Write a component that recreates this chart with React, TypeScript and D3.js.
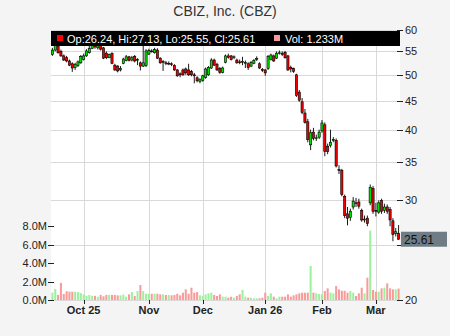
import React from 'react';
import * as d3 from 'd3';

const W = 450;
const H = 336;

const START = '2025-09-16';
const HOLIDAYS = ['2025-11-27', '2025-12-25', '2026-01-01', '2026-01-19', '2026-02-16'];

const open = [
  54.3, 55.3, 56.2, 55.0, 54.0, 53.6, 52.9, 52.3, 51.5, 51.9,
  52.5, 53.2, 54.0, 54.7, 55.7, 56.5, 55.8, 56.3, 55.8, 54.6,
  53.6, 54.5, 52.0, 51.8, 51.0, 52.4, 53.0, 53.8, 53.1, 53.9,
  53.0, 52.5, 51.8, 51.9, 54.4, 55.1, 54.7, 55.3, 53.5, 52.6,
  52.5, 52.3, 52.3, 51.9, 51.0, 50.2, 51.0, 51.2, 51.0, 50.7,
  50.0, 49.4, 48.7, 48.9, 49.5, 50.0, 51.4, 53.1, 52.2, 51.3,
  50.5, 52.6, 54.0, 54.0, 53.7, 53.1, 52.7, 52.6, 52.4, 52.3,
  51.8, 52.4, 53.3, 52.3, 51.1, 51.0, 51.3, 53.2, 54.0, 53.5,
  54.6, 54.6, 54.8, 54.0, 51.5, 51.3, 50.0, 46.6, 44.8, 42.8,
  41.3, 37.6, 39.6, 38.6, 38.8, 39.8, 40.8, 37.4, 37.5, 38.3,
  38.3, 34.0, 33.9, 30.5, 28.4, 28.0, 29.2, 29.7, 29.8, 28.8,
  27.7, 27.9, 29.7, 31.5, 28.8, 28.6, 30.0, 28.8, 29.2, 28.9,
  27.6, 26.2, 26.24,
];
const high = [
  55.8, 57.0, 56.8, 55.4, 54.3, 54.0, 53.2, 52.6, 52.5, 53.0,
  54.2, 54.5, 55.5, 56.3, 57.0, 57.2, 57.0, 56.8, 56.0, 55.0,
  54.5, 54.8, 52.3, 52.0, 51.8, 53.6, 54.2, 54.0, 54.0, 54.2,
  53.5, 52.8, 56.4, 55.5, 55.6, 55.5, 55.8, 55.7, 53.7, 53.1,
  52.9, 52.8, 52.6, 52.2, 51.2, 50.5, 51.3, 51.5, 52.3, 51.0,
  50.4, 49.7, 49.3, 50.0, 51.5, 51.8, 53.5, 53.4, 52.5, 51.6,
  51.7, 54.3, 54.5, 54.2, 54.1, 53.4, 53.2, 53.8, 53.0, 52.6,
  52.9, 53.3, 53.9, 52.6, 51.4, 51.2, 54.2, 54.5, 54.3, 55.0,
  55.2, 55.0, 55.1, 54.2, 51.9, 51.5, 50.2, 47.0, 45.5, 43.5,
  41.8, 40.0, 40.3, 39.2, 40.0, 41.6, 41.2, 37.8, 40.0, 38.8,
  38.6, 34.6, 34.1, 30.7, 29.2, 29.0, 30.4, 30.3, 30.2, 29.0,
  28.2, 28.2, 32.0, 31.8, 29.7, 30.0, 30.2, 29.6, 29.5, 29.2,
  27.9, 26.8, 27.13,
];
const low = [
  54.0, 55.0, 54.5, 53.8, 52.9, 52.6, 51.8, 50.6, 51.0, 51.6,
  52.3, 53.0, 53.8, 54.5, 55.5, 55.6, 55.4, 55.2, 53.3, 53.3,
  53.5, 52.2, 50.8, 50.5, 50.7, 52.2, 52.8, 52.8, 52.8, 52.6,
  52.0, 50.9, 51.6, 51.6, 54.2, 54.7, 54.5, 53.3, 52.3, 50.8,
  52.0, 52.0, 51.8, 50.8, 49.6, 49.5, 49.8, 50.0, 49.8, 49.7,
  48.3, 48.5, 48.3, 48.6, 49.2, 49.8, 51.2, 51.8, 50.8, 50.2,
  50.3, 52.4, 53.4, 53.0, 53.3, 52.3, 52.2, 52.0, 51.4, 51.0,
  51.6, 52.2, 52.9, 51.2, 50.6, 49.8, 51.0, 53.0, 52.7, 53.3,
  54.3, 54.0, 53.4, 50.8, 50.5, 50.4, 45.7, 44.8, 42.6, 41.0,
  38.0, 36.8, 38.3, 38.2, 38.5, 39.5, 35.9, 36.2, 37.2, 38.0,
  34.3, 33.4, 30.5, 27.9, 27.1, 27.6, 28.9, 29.2, 29.0, 27.5,
  27.4, 27.0, 29.4, 28.4, 28.1, 28.4, 28.4, 28.5, 28.4, 27.0,
  25.4, 25.9, 25.55,
];
const close = [
  55.3, 56.3, 54.7, 54.0, 53.1, 52.9, 52.0, 51.4, 52.2, 52.7,
  53.9, 54.0, 55.1, 55.7, 56.5, 56.0, 56.4, 55.5, 53.5, 53.6,
  54.3, 52.4, 51.0, 50.8, 51.3, 53.3, 53.8, 53.0, 53.6, 52.9,
  53.2, 51.8, 52.5, 55.1, 55.2, 55.0, 55.4, 53.5, 52.5, 52.8,
  52.4, 52.4, 52.1, 51.0, 49.8, 50.0, 50.0, 50.4, 50.0, 50.0,
  49.8, 48.8, 49.0, 49.8, 51.2, 51.5, 53.1, 52.0, 51.0, 50.5,
  51.4, 54.0, 53.7, 53.2, 53.8, 52.5, 52.6, 52.8, 52.6, 51.5,
  52.6, 53.0, 53.4, 51.4, 51.0, 50.4, 53.9, 54.2, 52.9, 54.6,
  54.7, 54.3, 53.6, 51.0, 51.2, 50.7, 46.0, 45.1, 42.9, 41.2,
  38.4, 39.5, 38.6, 38.7, 39.6, 41.1, 36.6, 36.6, 38.0, 38.4,
  34.5, 33.9, 30.7, 28.2, 27.9, 28.7, 29.9, 29.6, 29.3, 27.7,
  27.8, 27.3, 31.6, 28.7, 28.7, 29.7, 28.7, 29.2, 28.7, 27.7,
  26.1, 26.4, 25.61,
];
const volume = [
  0.8, 1.2, 0.55, 1.85, 0.65, 0.95, 0.9, 0.9, 0.9, 0.85,
  0.75, 0.6, 0.45, 0.55, 0.45, 0.45, 0.35, 0.55, 0.4, 0.55,
  0.55, 0.55, 0.55, 0.5, 0.5, 0.58, 0.36, 0.61, 0.86, 0.43,
  0.97, 1.62, 0.97, 0.68, 0.65, 0.68, 0.68, 0.68, 0.61, 0.61,
  0.54, 0.54, 0.5, 0.54, 0.68, 0.5, 0.79, 1.15, 0.68, 1.33,
  0.79, 0.86, 0.5, 0.43, 0.61, 0.72, 0.79, 0.54, 0.43, 0.61,
  0.36, 0.36, 0.25, 0.36, 0.25, 0.43, 0.61, 1.08, 0.36, 0.25,
  0.25, 0.18, 0.18, 0.18, 0.25, 0.79, 0.43, 0.72, 0.36, 0.18,
  0.36, 0.36, 0.36, 0.61, 0.36, 0.5, 0.61, 0.72, 0.79, 0.79,
  0.79, 3.68, 0.79, 0.72, 0.65, 0.61, 0.97, 1.26, 0.79, 0.72,
  1.51, 1.15, 1.0, 1.0, 0.79, 0.97, 0.79, 0.43, 0.72, 1.33,
  0.72, 2.41, 7.5, 1.08, 0.9, 0.9, 1.26, 1.33, 1.8, 1.26,
  1.15, 1.15, 1.233,
];

const monthKeys = ['2025-10', '2025-11', '2025-12', '2026-01', '2026-02', '2026-03'];
const monthLabels = ['Oct 25', 'Nov', 'Dec', 'Jan 26', 'Feb', 'Mar'];
const priceTicks = [20, 25, 30, 35, 40, 45, 50, 55, 60];
const hiddenPriceLabels = [25];
const volumeTicks = [0, 2, 4, 6, 8];

const TITLE = 'CBIZ, Inc. (CBZ)';

function tradingDays(startISO: string, count: number, holidays: string[]): string[] {
  const out: string[] = [];
  const d = new Date(startISO + 'T00:00:00Z');
  while (out.length < count) {
    const dow = d.getUTCDay();
    const iso = d.toISOString().slice(0, 10);
    if (dow !== 0 && dow !== 6 && !holidays.includes(iso)) out.push(iso);
    d.setUTCDate(d.getUTCDate() + 1);
  }
  return out;
}

const FONT = '"Liberation Sans", Arial, Helvetica, sans-serif';

export default function App() {
  const n = close.length;
  const dates = tradingDays(START, n, HOLIDAYS);
  const left = 51, right = 400, top = 30, bottom = 300;

  const x = d3.scaleBand<string>().domain(dates).range([left, right]).padding(0);
  const bw = x.bandwidth();
  const cx = (i: number) => (x(dates[i]) as number) + bw / 2;
  const y = d3.scaleLog().domain([20, 60]).range([bottom, top]);
  const yv = d3.scaleLinear().domain([0, 8]).range([bottom, 226]);

  const mIdx = monthKeys.map((k) => dates.findIndex((d) => d.startsWith(k)));
  const fmtV = d3.format('.1f');
  const last = n - 1;

  const up = (i: number) => close[i] >= open[i];

  return (
    <svg width={W} height={H} style={{ position: 'absolute', left: 0, top: 0, fontFamily: FONT }}>
      <defs>
        <clipPath id="plotclip">
          <rect x={left} y={top} width={right - left} height={bottom - top} />
        </clipPath>
      </defs>
      <rect x={0} y={0} width={W} height={H} fill="#f4f4f4" />
      <rect x={left} y={top} width={right - left} height={bottom - top} fill="#ffffff" />

      {/* grid */}
      <g stroke="#d9d9d9" strokeWidth={1} shapeRendering="crispEdges">
        {priceTicks.map((t) => (
          <line key={'h' + t} x1={left} x2={right} y1={Math.round(y(t)) + 0.5} y2={Math.round(y(t)) + 0.5} />
        ))}
        {mIdx.map((i, k) => (
          <line key={'v' + k} x1={Math.round(cx(i)) + 0.5} x2={Math.round(cx(i)) + 0.5} y1={top} y2={bottom} />
        ))}
      </g>

      {/* volume */}
      <g clipPath="url(#plotclip)">
        {volume.map((v, i) => (
          <rect
            key={'v' + i}
            x={(x(dates[i]) as number) + 0.4}
            width={bw - 0.8}
            y={yv(v)}
            height={bottom - yv(v)}
            fill={up(i) ? '#9cf29c' : '#fa9a9a'}
          />
        ))}
      </g>

      {/* candles */}
      <g clipPath="url(#plotclip)">
        {close.map((c, i) => {
          const xc = cx(i);
          const yo = y(open[i]);
          const yc = y(c);
          const yt = Math.min(yo, yc);
          const h = Math.max(Math.abs(yo - yc), 0.8);
          return (
            <g key={'c' + i}>
              <line x1={xc} x2={xc} y1={y(high[i])} y2={y(low[i])} stroke="#000" strokeWidth={0.9} />
              <rect
                x={xc - 1.1}
                width={2.2}
                y={yt}
                height={h}
                fill={up(i) ? '#00e000' : '#ee0000'}
                stroke="#000"
                strokeWidth={0.6}
              />
            </g>
          );
        })}
      </g>

      {/* legend bar */}
      <rect x={left} y={31} width={right - left} height={15} fill="#000" />
      <rect x={57} y={35} width={6} height={6} fill="#ff0000" />
      <text x={67} y={42.5} fill="#fff" fontSize={11}>
        {`Op:${open[last].toFixed(2)}, Hi:${high[last].toFixed(2)}, Lo:${low[last].toFixed(2)}, Cl:${close[last].toFixed(2)}`}
      </text>
      <rect x={274} y={35} width={6} height={6} fill="#fa9a9a" />
      <text x={285} y={42.5} fill="#fff" fontSize={11}>
        {`Vol: ${volume[last].toFixed(3)}M`}
      </text>

      {/* right price axis */}
      <g fontSize={11} fill="#222">
        {priceTicks.map((t) => (
          <g key={'p' + t}>
            <line x1={397} x2={403} y1={Math.round(y(t)) + 0.5} y2={Math.round(y(t)) + 0.5} stroke="#222" strokeWidth={1} shapeRendering="crispEdges" />
            {hiddenPriceLabels.includes(t) ? null : <text x={405} y={y(t) + 4}>{t}</text>}
          </g>
        ))}
      </g>

      {/* left volume axis */}
      <g fontSize={11} fill="#222">
        {volumeTicks.map((t) => (
          <g key={'vt' + t}>
            <line x1={48} x2={54} y1={Math.round(yv(t)) + 0.5} y2={Math.round(yv(t)) + 0.5} stroke="#222" strokeWidth={1} shapeRendering="crispEdges" />
            <text x={47} y={yv(t) + 4} textAnchor="end">{fmtV(t) + 'M'}</text>
          </g>
        ))}
      </g>

      {/* bottom axis */}
      <g>
        {mIdx.map((i, k) => (
          <g key={'m' + k}>
            <line x1={Math.round(cx(i)) + 0.5} x2={Math.round(cx(i)) + 0.5} y1={bottom} y2={bottom + 4} stroke="#222" strokeWidth={1} shapeRendering="crispEdges" />
            <text x={cx(i)} y={313.5} textAnchor="middle" fontSize={11} fontWeight="bold" fill="#222">
              {monthLabels[k]}
            </text>
          </g>
        ))}
      </g>

      {/* last price label */}
      <rect x={401} y={y(close[last]) - 7.5} width={46} height={15} fill="#6f7c85" />
      <text x={404} y={y(close[last]) + 4.5} fontSize={12} fill="#111">{close[last].toFixed(2)}</text>

      {/* title */}
      <text x={225} y={16} textAnchor="middle" fontSize={14} fill="#333">{TITLE}</text>
    </svg>
  );
}
